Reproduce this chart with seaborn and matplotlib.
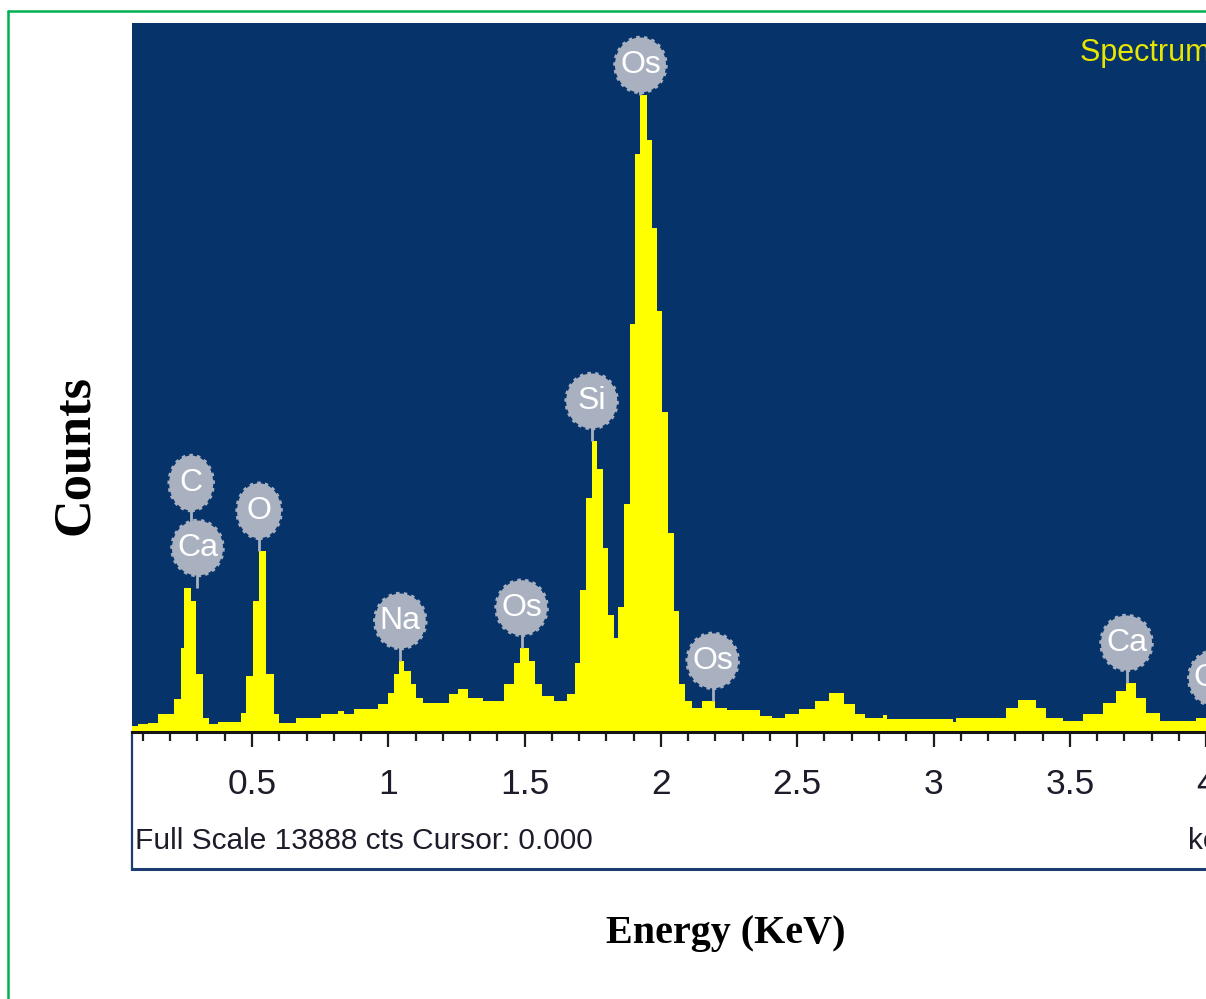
import numpy as np
import pandas as pd
import matplotlib
matplotlib.use("Agg")
import matplotlib.pyplot as plt
import seaborn as sns
from matplotlib import font_manager
from matplotlib.patches import Ellipse
from matplotlib.lines import Line2D

# ---------------- data ----------------
seg_start_kev = [0.000, 0.081, 0.118, 0.154, 0.213, 0.239, 0.250, 0.276, 0.294, 0.320,
                 0.342, 0.375, 0.460, 0.478, 0.504, 0.526, 0.551, 0.581, 0.599, 0.662,
                 0.754, 0.816, 0.838, 0.875, 0.963, 1.000, 1.022, 1.040, 1.059, 1.085,
                 1.103, 1.129, 1.221, 1.257, 1.294, 1.349, 1.426, 1.460, 1.482, 1.515,
                 1.537, 1.563, 1.607, 1.654, 1.684, 1.702, 1.724, 1.746, 1.765, 1.787,
                 1.805, 1.827, 1.842, 1.864, 1.886, 1.904, 1.923, 1.949, 1.967, 1.985,
                 2.004, 2.026, 2.048, 2.066, 2.088, 2.114, 2.151, 2.199, 2.243, 2.364,
                 2.408, 2.456, 2.507, 2.566, 2.618, 2.673, 2.713, 2.750, 2.813, 2.831,
                 3.070, 3.081, 3.265, 3.309, 3.375, 3.412, 3.474, 3.548, 3.621, 3.669,
                 3.706, 3.743, 3.779, 3.831, 3.963]
seg_end_kev = 4.40
seg_counts = [120, 160, 180, 350, 650, 1650, 2820, 2570, 1140, 270,
              160, 200, 370, 1100, 2570, 3550, 1140, 350, 180, 270,
              350, 410, 350, 450, 550, 760, 1140, 1390, 1200, 940,
              670, 570, 740, 840, 670, 610, 940, 1350, 1650, 1390,
              940, 710, 610, 740, 1350, 2780, 4590, 5700, 5150, 3610,
              2290, 1840, 2450, 4470, 8000, 11330, 12470, 11600, 9880, 8250,
              6270, 3900, 2370, 940, 610, 470, 610, 470, 430, 310,
              270, 350, 450, 610, 760, 550, 350, 270, 330, 250,
              200, 270, 470, 630, 470, 270, 220, 350, 570, 800,
              960, 670, 370, 220, 270]

full_scale = 13888
label_names = ["C", "Ca", "O", "Na", "Os", "Si", "Os", "Os", "Ca", "Ca"]
label_kev = [0.277, 0.300, 0.526, 1.044, 1.489, 1.746, 1.925, 2.190, 3.708, 4.030]
label_level = [1, 0, 0, 0, 0, 0, 0, 0, 0, 0]

major_ticks = [0.5, 1.0, 1.5, 2.0, 2.5, 3.0, 3.5, 4.0]
major_labels = ["0.5", "1", "1.5", "2", "2.5", "3", "3.5", "4"]

info_text = "Full Scale 13888 cts Cursor: 0.000"
spectrum_title = "Spectrum 1"
unit_text = "keV"
x_title = "Energy (KeV)"
y_title = "Counts"

# ---------------- style ----------------
sns.set_theme(style="white")
names = {f.name for f in font_manager.fontManager.ttflist}
SANS = "Liberation Sans Narrow" if "Liberation Sans Narrow" in names else "Liberation Sans"
plt.rcParams["font.family"] = [SANS, "DejaVu Sans"]

NAVY = "#05336A"
YELLOW = "#FFFF00"
MARK = "#A9B1C1"

W, H = 1206, 999
fig = plt.figure(figsize=(W / 100, H / 100), dpi=100)
fig.patch.set_facecolor("white")

def fx(px):
    return px / W

def fy(py):
    return 1 - py / H

PX_PER_KEV = 272.6
AX_LEFT, AX_TOP, AX_BOTTOM, AX_RIGHT = 132, 23, 732, 1300
x0 = 0.5 - (252 - AX_LEFT) / PX_PER_KEV
x1 = x0 + (AX_RIGHT - AX_LEFT) / PX_PER_KEV
cpp = full_scale / (AX_BOTTOM - AX_TOP)  # counts per pixel

# white info panel under the spectrum
ax_p = fig.add_axes([fx(AX_LEFT), fy(869), fx(AX_RIGHT - AX_LEFT), (869 - AX_BOTTOM) / H])
ax_p.set_facecolor("white")
ax_p.set_xticks([]); ax_p.set_yticks([])
for s in ["top", "right"]:
    ax_p.spines[s].set_visible(False)
ax_p.spines["left"].set_color("#1E3C74"); ax_p.spines["left"].set_linewidth(1.6)
ax_p.spines["bottom"].set_color("#1E3C74"); ax_p.spines["bottom"].set_linewidth(2.2)
ax_p.set_zorder(0)

# spectrum axes
ax = fig.add_axes([fx(AX_LEFT), fy(AX_BOTTOM), fx(AX_RIGHT - AX_LEFT), (AX_BOTTOM - AX_TOP) / H])
ax.set_zorder(2)
ax.set_facecolor(NAVY)

edges = [float(v) for v in seg_start_kev] + [seg_end_kev]
edges_arr = np.array(edges)
mids = (edges_arr[:-1] + edges_arr[1:]) / 2
df = pd.DataFrame({"energy": mids, "counts": seg_counts})
sns.histplot(data=df, x="energy", weights="counts", bins=edges, element="step",
             fill=True, color=YELLOW, alpha=1, linewidth=0, ax=ax)

ax.set_xlim(x0, x1)
ax.set_ylim(0, full_scale)
ax.set_xlabel(""); ax.set_ylabel("")
ax.set_yticks([])
for s in ["top", "right", "left"]:
    ax.spines[s].set_visible(False)
ax.spines["bottom"].set_color("#151515")
ax.spines["bottom"].set_linewidth(2.2)
ax.set_xticks(major_ticks)
ax.set_xticklabels(major_labels)
minor = [round(v, 1) for v in np.arange(0.1, 4.35, 0.1) if abs(v * 2 - round(v * 2)) > 1e-6]
ax.set_xticks(minor, minor=True)
narrow = "Narrow" in SANS
ax.tick_params(axis="x", which="major", direction="out", length=11, width=1.6,
               color="#1d1d1d", pad=15, labelsize=27 if narrow else 25.5,
               labelcolor="#1c1c2a", bottom=True)
ax.tick_params(axis="x", which="minor", direction="out", length=6.5, width=1.6,
               color="#1d1d1d", bottom=True)

# element markers
seg_arr = np.array(seg_counts)
base_centers = {}
for name, e, lvl in zip(label_names, label_kev, label_level):
    mask = (edges_arr[1:] > e - 0.03) & (edges_arr[:-1] < e + 0.03)
    tip = seg_arr[mask].max()
    w_px = 44 if len(name) == 1 else 51
    h_px = 55
    yc = tip + 40 * cpp
    yc = min(yc, full_scale - 42 * cpp)
    key = round(e, 1)
    if lvl == 0:
        base_centers[key] = yc
        stem_bottom = tip
    else:
        lower = None
        for k, v in base_centers.items():
            if abs(k - e) < 0.06:
                lower = v
        if lower is None:
            lower = yc
        yc = lower + 65 * cpp
        stem_bottom = lower
    ax.plot([e, e], [stem_bottom, yc], color=MARK, lw=2.0, zorder=4, solid_capstyle="butt")
    el = Ellipse((e, yc), width=w_px / PX_PER_KEV, height=h_px * cpp, transform=ax.transData,
                 facecolor=MARK, edgecolor=MARK, lw=2.5, ls=(0, (1, 1.2)), zorder=5)
    ax.add_patch(el)
    ax.text(e, yc, name, color="white", fontsize=23, ha="center", va="center",
            zorder=6, family=[SANS, "DejaVu Sans"])

# texts
t_spec = fig.text(fx(1080), fy(53), spectrum_title, color="#E6E600", fontsize=22,
                  ha="left", va="center", family=[SANS, "DejaVu Sans"])
t_info = fig.text(fx(135), fy(841), info_text, color="#1c1c2a", fontsize=27,
                  ha="left", va="center", family=[SANS, "DejaVu Sans"])
t_unit = fig.text(fx(1188), fy(841), unit_text, color="#1c1c2a", fontsize=27,
                  ha="left", va="center", family=[SANS, "DejaVu Sans"])
t_x = fig.text(fx(726), fy(933), x_title, color="black", fontsize=29, ha="center",
               va="center", family=["Liberation Serif", "DejaVu Serif"], weight="bold")
t_y = fig.text(fx(75), fy(455), y_title, color="black", fontsize=34, ha="center",
               va="center", rotation=90, family=["Liberation Serif", "DejaVu Serif"], weight="bold")

fig.canvas.draw()
r = fig.canvas.get_renderer()
def fit(t, target, dim="width"):
    bb = t.get_window_extent(r)
    cur = bb.width if dim == "width" else bb.height
    t.set_fontsize(t.get_fontsize() * target / cur)
fit(t_info, 458)
t_unit.set_fontsize(t_info.get_fontsize())
fit(t_x, 239)
fit(t_y, 160, "height")

# green frame
fig.add_artist(Line2D([fx(7.5), fx(7.5)], [0, fy(11)], transform=fig.transFigure,
                      color="#00B050", lw=1.8))
fig.add_artist(Line2D([fx(7.5), 1], [fy(11), fy(11)], transform=fig.transFigure,
                      color="#00B050", lw=1.8))

fig.savefig("out.png", dpi=100, facecolor="white")
